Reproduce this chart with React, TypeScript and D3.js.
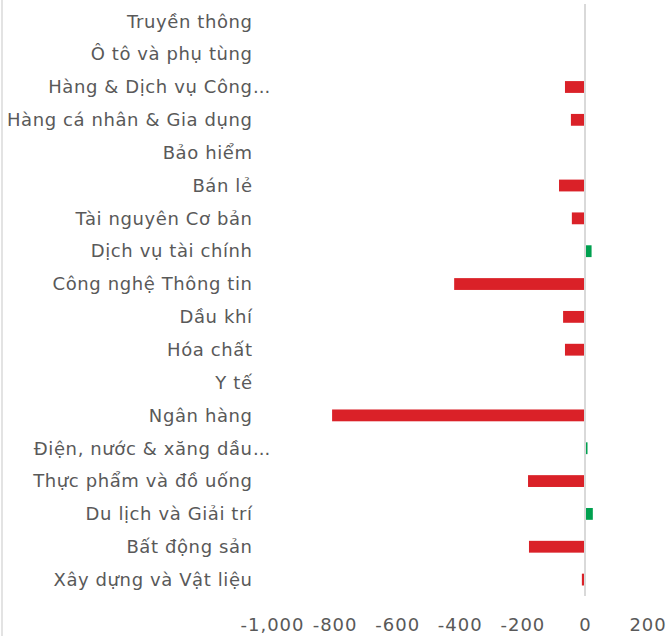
import React, {useEffect, useRef} from "react";
import * as d3 from "d3";

const categories: string[] = [
    "Truyền thông",
    "Ô tô và phụ tùng",
    "Hàng & Dịch vụ Công...",
    "Hàng cá nhân & Gia dụng",
    "Bảo hiểm",
    "Bán lẻ",
    "Tài nguyên Cơ bản",
    "Dịch vụ tài chính",
    "Công nghệ Thông tin",
    "Dầu khí",
    "Hóa chất",
    "Y tế",
    "Ngân hàng",
    "Điện, nước & xăng dầu...",
    "Thực phẩm và đồ uống",
    "Du lịch và Giải trí",
    "Bất động sản",
    "Xây dựng và Vật liệu",
];

const values: number[] = [
    0, 0, -64, -45, 0, -83, -42, 21, -418, -70, -64, 0, -808, 8, -182, 25, -179, -10,
];

const tickValues: number[] = [-1000, -800, -600, -400, -200, 0, 200];

const WIDTH = 667;
const HEIGHT = 637;

export default function App() {
    const ref = useRef<SVGSVGElement>(null);

    useEffect(() => {
        const svg = d3.select(ref.current);
        svg.selectAll("*").remove();

        const x = d3.scaleLinear().domain([-1000, 200]).range([272, 647.6]);
        const y = d3.scaleBand<string>()
            .domain(categories)
            .range([4.9, 596])
            .paddingInner(0.64)
            .paddingOuter(0.32);

        // left border
        svg.append("rect")
            .attr("x", 1).attr("y", 0)
            .attr("width", 2).attr("height", 636)
            .attr("fill", "#e3e3e3");

        // bars
        const data = categories.map((c, i) => ({c, v: values[i]}));
        svg.append("g")
            .selectAll("rect")
            .data(data.filter(d => d.v !== 0))
            .enter()
            .append("rect")
            .attr("x", d => Math.min(x(0), x(d.v)))
            .attr("y", d => y(d.c)!)
            .attr("width", d => Math.abs(x(d.v) - x(0)))
            .attr("height", y.bandwidth())
            .attr("fill", d => d.v < 0 ? "#da2128" : "#00a04f");

        // zero line
        svg.append("line")
            .attr("x1", x(0)).attr("x2", x(0))
            .attr("y1", 4).attr("y2", 596)
            .attr("stroke", "#d9d9d9")
            .attr("stroke-width", 2);

        // category labels (truncated ones overflow past the right edge)
        const labels = svg.append("g")
            .attr("font-family", "'DejaVu Sans', sans-serif")
            .attr("font-size", 18)
            .attr("letter-spacing", 0.6)
            .attr("fill", "#595959");
        categories.forEach(c => {
            const cut = c.endsWith("...");
            const base = cut ? c.slice(0, -3) : c;
            const cy = y(c)! + y.bandwidth() / 2;
            labels.append("text")
                .attr("x", 252.6)
                .attr("y", cy)
                .attr("dy", "0.35em")
                .attr("text-anchor", "end")
                .text(base);
            if (cut) {
                labels.append("text")
                    .attr("x", 253)
                    .attr("y", cy)
                    .attr("dy", "0.35em")
                    .attr("letter-spacing", 0)
                    .text("...");
            }
        });

        // x tick labels
        const fmt = d3.format(",");
        svg.append("g")
            .selectAll("text")
            .data(tickValues)
            .enter()
            .append("text")
            .attr("x", d => x(d) + 0.5)
            .attr("y", 625)
            .attr("dy", "0.35em")
            .attr("text-anchor", "middle")
            .attr("font-family", "'DejaVu Sans', sans-serif")
            .attr("font-size", 18)
            .attr("letter-spacing", 1)
            .attr("fill", "#595959")
            .text(d => fmt(d).replace("−", "-"));
    }, []);

    return (
        <svg ref={ref} width={WIDTH} height={HEIGHT}
             style={{position: "absolute", left: 0, top: 0, background: "#fff"}}/>
    );
}
